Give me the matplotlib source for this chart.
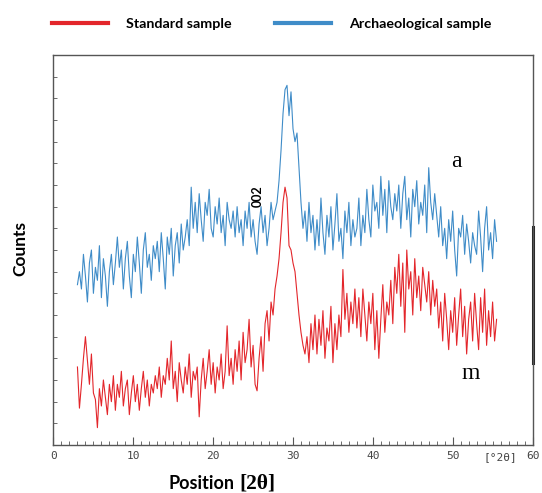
import numpy as np
import matplotlib
matplotlib.use("Agg")
import matplotlib.pyplot as plt

# 2theta grid, 3.0 .. 55.5 in 0.25 steps
two_theta = np.arange(3.0, 55.51, 0.25)

# archaeological sample (blue), counts in arbitrary units
archaeological = [
    74, 80, 72, 88, 78, 66, 84, 90, 70, 82, 76, 92, 68, 86, 78, 64, 80, 88, 74, 84,
    96, 82, 90, 72, 86, 94, 78, 68, 88, 80, 96, 84, 70, 90, 98, 82, 88, 76, 92, 86,
    94, 80, 98, 86, 72, 96, 88, 100, 78, 92, 98, 84, 102, 90, 96, 104, 92, 119, 100, 112,
    98, 116, 104, 94, 112, 106, 118, 100, 96, 110, 102, 114, 98, 106, 92, 112, 104, 100, 108, 96,
    110, 98, 104, 92, 108, 100, 112, 96, 104, 94, 88, 102, 110, 98, 106, 92, 100, 112, 104, 108,
    112, 122, 136, 153, 164, 166, 152, 163, 146, 140, 144, 128, 112, 100, 108, 94, 112, 98, 106, 90,
    104, 92, 114, 98, 88, 106, 96, 110, 90, 102, 116, 94, 100, 86, 108, 98, 112, 92, 104, 96,
    100, 114, 92, 106, 98, 118, 104, 96, 120, 108, 112, 100, 124, 106, 118, 98, 122, 110, 104, 116,
    108, 120, 100, 116, 124, 104, 114, 96, 118, 110, 122, 102, 112, 106, 120, 98, 128, 112, 104, 116,
    106, 96, 110, 92, 100, 86, 104, 94, 108, 90, 78, 100, 96, 106, 88, 102, 94, 84, 98, 92,
    88, 108, 96, 80, 100, 110, 90, 98, 86, 104, 94,
]

# standard sample (red)
standard = [
    36, 17, 28, 40, 50, 39, 28, 42, 24, 21, 8, 26, 18, 30, 22, 14, 28, 20, 32, 16,
    28, 22, 34, 18, 26, 30, 14, 24, 32, 20, 28, 16, 26, 34, 22, 30, 18, 28, 24, 32,
    26, 36, 22, 32, 28, 40, 30, 48, 26, 34, 20, 38, 30, 24, 36, 28, 42, 22, 34, 30,
    36, 13, 30, 40, 26, 34, 44, 28, 38, 24, 36, 30, 42, 26, 34, 55, 32, 40, 28, 44,
    34, 48, 30, 52, 38, 44, 58, 36, 46, 28, 25, 40, 50, 34, 56, 62, 48, 66, 60, 72,
    78, 86, 98, 112, 119, 114, 92, 90, 84, 80, 70, 60, 52, 46, 42, 50, 38, 56, 44, 60,
    42, 58, 46, 62, 40, 54, 48, 64, 38, 56, 44, 60, 50, 81, 58, 70, 52, 66, 56, 72,
    54, 68, 50, 72, 60, 48, 66, 56, 70, 44, 62, 40, 58, 74, 52, 66, 60, 76, 56, 82,
    70, 88, 64, 84, 52, 90, 72, 80, 60, 86, 68, 78, 62, 82, 74, 66, 80, 60, 76, 64,
    72, 54, 66, 48, 70, 58, 44, 62, 52, 68, 46, 60, 72, 50, 64, 42, 58, 66, 48, 70,
    56, 44, 68, 52, 72, 46, 62, 50, 66, 48, 58,
]

x_ticks = [0, 10, 20, 30, 40, 50, 60]
x_ticklabels = ["0", "10", "20", "30", "40", "50", "60"]

red = "#e3262b"
blue = "#3f8cc8"

fig = plt.figure(figsize=(5.42, 4.93), dpi=100)
ax = fig.add_axes([0.0987, 0.0974, 0.8838, 0.791])

ax.plot(two_theta, archaeological, color=blue, lw=0.8)
ax.plot(two_theta, standard, color=red, lw=0.8)

ax.set_xlim(0, 60)
ax.set_ylim(0, 180)

ax.set_xticks(x_ticks)
ax.set_xticklabels(x_ticklabels, family="DejaVu Sans Mono", fontsize=8, color="#444444")
ax.set_xticks(np.arange(0, 61, 1), minor=True)
ax.set_yticks(np.arange(0, 181, 10))
ax.set_yticklabels([])
ax.tick_params(axis="x", which="major", direction="in", length=6, width=0.8, color="#555555", pad=4)
ax.tick_params(axis="x", which="minor", direction="in", length=3, width=0.6, color="#555555")
ax.tick_params(axis="y", which="major", direction="in", length=3, width=0.6, color="#555555")
for s in ax.spines.values():
    s.set_color("#555555")
    s.set_linewidth(1.0)

# unit label inside the tick row
ax.text(56, -3.2, "[\u00b02\u03b8]", family="DejaVu Sans Mono", fontsize=8, color="#444444",
        ha="center", va="top", clip_on=False)

# scan artefact on the right frame
ax.axvline(60, ymin=0.21, ymax=0.56, color="#222222", lw=2.2, clip_on=False)

ax.text(25.6, 110, "002", rotation=90, fontsize=9, fontweight="bold", family="Lato",
        ha="center", va="bottom")
ax.text(50.5, 131, "a", fontsize=17, family="Liberation Serif", ha="center", va="center")
ax.text(52.3, 33, "m", fontsize=17, family="Liberation Serif", ha="center", va="center")

fig.text(0.037, 0.495, "Counts", rotation=90, fontsize=12.5, fontweight="bold", family="Lato",
         ha="center", va="center")
fig.text(0.31, 0.020, "Position", fontsize=13, fontweight="bold", family="Lato",
         ha="left", va="center")
fig.text(0.441, 0.020, "[2\u03b8]", fontsize=15.5, fontweight="bold", family="Liberation Serif",
         ha="left", va="center")

# legend across the top
h1, = ax.plot([], [], color=red, lw=3)
h2, = ax.plot([], [], color=blue, lw=3)
leg = fig.legend([h1, h2], ["Standard sample", "Archaeological sample"], ncol=2,
                 loc="center left", bbox_to_anchor=(0.072, 0.951), frameon=False,
                 handlelength=3.9, handletextpad=1.3, columnspacing=3.0,
                 prop={"family": "Lato", "weight": "bold", "size": 10.3})

fig.savefig("out.png", dpi=100)
